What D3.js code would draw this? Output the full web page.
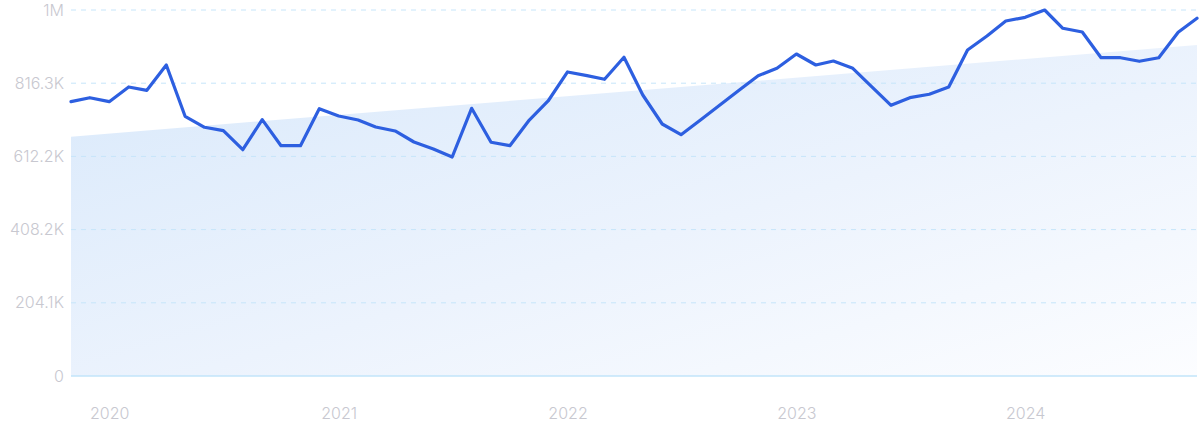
<!DOCTYPE html>
<html>
<head>
<meta charset="utf-8">
<script src="https://cdn.jsdelivr.net/npm/d3@7"></script>
<style>
    html, body { margin: 0; padding: 0; background: #ffffff; }
    svg { display: block; font-family: Inter, "Noto Sans", sans-serif; }
</style>
</head>
<body>
<div id="chart"></div>
<script>
// Monthly values, Nov 2019 .. Oct 2024
const firstMonth = "2019-11-01";
const lastMonth = "2024-10-01";
const values = [
    764800, 775900, 764800, 805800, 796500, 867100, 724100, 693400, 683900, 630900,
    714600, 642100, 642100, 745200, 724900, 713700, 694200, 683100, 652400, 632900,
    610600, 746300, 651600, 642100, 713700, 766700, 847600, 837300, 827200, 888500,
    783400, 702600, 672800, 713700, 755500, 796000, 837300, 857900, 897700, 867100,
    878200, 857900, 806600, 754700, 775900, 785400, 805800, 908900, 947900, 989700,
    1000000, 1020400, 969400, 959100, 887400, 887400, 877400, 887400, 958200, 997300
];
// Trend band: value at first and last month
const trendValues = [667200, 922800];
const yTickLabels = ["0", "204.1K", "408.2K", "612.2K", "816.3K", "1M"];

const width = 1200;
const height = 432;
const margin = { top: 10, right: 3, bottom: 56, left: 71 };

const parse = d3.timeParse("%Y-%m-%d");
const months = d3.timeMonth.range(parse(firstMonth), d3.timeMonth.offset(parse(lastMonth), 1));
const data = months.map((m, i) => ({ date: m, value: values[i] }));

const x = d3.scaleTime()
    .domain([months[0], months[months.length - 1]])
    .range([margin.left, width - margin.right]);

const yMax = d3.max(values);
const y = d3.scaleLinear()
    .domain([0, yMax])
    .range([height - margin.bottom, margin.top]);

const svg = d3.select("#chart")
    .append("svg")
    .attr("width", width)
    .attr("height", height);

const defs = svg.append("defs");
const grad = defs.append("linearGradient")
    .attr("id", "trendFill")
    .attr("x1", "0%").attr("y1", "0%")
    .attr("x2", "100%").attr("y2", "100%");
grad.append("stop").attr("offset", "0%").attr("stop-color", "#d9e9fb");
grad.append("stop").attr("offset", "55%").attr("stop-color", "#ecf3fd");
grad.append("stop").attr("offset", "100%").attr("stop-color", "#fcfdff");

// Trend area
const trendData = [
    { date: months[0], value: trendValues[0] },
    { date: months[months.length - 1], value: trendValues[1] }
];
svg.append("path")
    .datum(trendData)
    .attr("fill", "url(#trendFill)")
    .attr("d", d3.area()
        .x(d => x(d.date))
        .y0(y(0))
        .y1(d => y(d.value)));

// Gridlines + y labels
const yTicks = yTickLabels.map((label, i) => ({ label, value: yMax * i / (yTickLabels.length - 1) }));

svg.append("g")
    .selectAll("line")
    .data(yTicks.filter(d => d.value > 0))
    .enter()
    .append("line")
    .attr("x1", margin.left)
    .attr("x2", width - margin.right)
    .attr("y1", d => y(d.value))
    .attr("y2", d => y(d.value))
    .attr("stroke", "#c6e5fa")
    .attr("stroke-width", 1)
    .attr("stroke-dasharray", "5,5");

// Baseline
svg.append("line")
    .attr("x1", margin.left)
    .attr("x2", width - margin.right)
    .attr("y1", y(0))
    .attr("y2", y(0))
    .attr("stroke", "#c2e4fa")
    .attr("stroke-width", 1.5);

svg.append("g")
    .selectAll("text")
    .data(yTicks)
    .enter()
    .append("text")
    .attr("x", margin.left - 7)
    .attr("y", d => y(d.value))
    .attr("dy", "0.35em")
    .attr("text-anchor", "end")
    .attr("fill", "#c8c8d0")
    .attr("font-size", 16)
    .attr("font-weight", 300)
    .text(d => d.label);

// X axis (years)
const xAxis = d3.axisBottom(x)
    .ticks(d3.timeYear.every(1))
    .tickFormat(d3.timeFormat("%Y"))
    .tickSize(0)
    .tickPadding(0);

const xg = svg.append("g")
    .attr("transform", `translate(0, ${height - 13})`)
    .call(xAxis);
xg.select(".domain").remove();
xg.selectAll("text")
    .attr("fill", "#c8c8d0")
    .attr("font-size", 16)
    .attr("font-weight", 300)
    .attr("font-family", "Inter, 'Noto Sans', sans-serif")
    .attr("dy", "0");

// Main line
svg.append("path")
    .datum(data)
    .attr("fill", "none")
    .attr("stroke", "#2d5fe0")
    .attr("stroke-width", 3.2)
    .attr("stroke-linejoin", "round")
    .attr("stroke-linecap", "round")
    .attr("d", d3.line()
        .x(d => x(d.date))
        .y(d => y(d.value)));
</script>
</body>
</html>
